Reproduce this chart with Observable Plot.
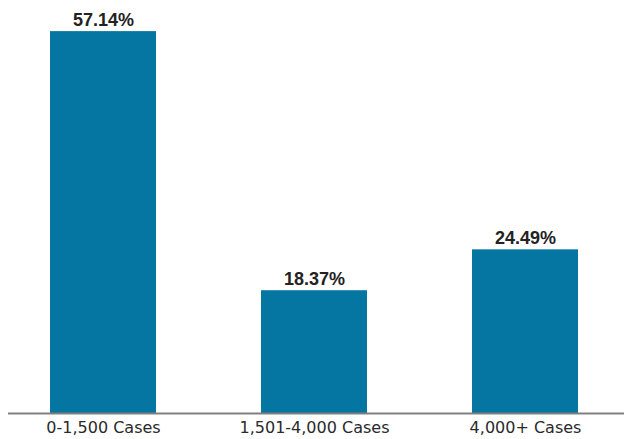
<!DOCTYPE html>
<html>
<head>
<meta charset="utf-8">
<script src="https://cdn.jsdelivr.net/npm/d3@7"></script>
<script src="https://cdn.jsdelivr.net/npm/@observablehq/plot@0.6"></script>
<style>
  html, body { margin: 0; padding: 0; background: #fff; }
  #chart svg { display: block; }
</style>
</head>
<body>
<div id="chart"></div>
<script>
const categories = ["0-1,500 Cases", "1,501-4,000 Cases", "4,000+ Cases"];
const values = [57.14, 18.37, 24.49];
const valueLabels = ["57.14%", "18.37%", "24.49%"];

const data = categories.map((c, i) => ({category: c, value: values[i], label: valueLabels[i]}));

const chart = Plot.plot({
  width: 624,
  height: 439,
  marginTop: 12,
  marginBottom: 26,
  marginLeft: 8,
  marginRight: 0,
  style: {background: "#fff"},
  x: {domain: categories, range: [8, 620], paddingInner: 0.5, paddingOuter: 0.2, label: null},
  y: {domain: [0, 60], axis: null},
  marks: [
    Plot.barY(data, {x: "category", y: "value", fill: "#0575a1"}),
    Plot.ruleY([0], {stroke: "#808080", strokeWidth: 2}),
    Plot.text(data, {
      x: "category", y: "value", text: "label",
      lineAnchor: "bottom", dy: -6,
      fontFamily: "Liberation Sans", fontWeight: "bold", fontSize: 18, fill: "#222"
    }),
    Plot.axisX({
      tickSize: 0, tickPadding: 8, label: null,
      fontFamily: "DejaVu Sans", fontSize: 16, fill: "#2a2a2a"
    })
  ]
});
chart.querySelectorAll("g[aria-label='x-axis tick label'] text, g[aria-label='x-axis tick label']").forEach(el => {
  el.setAttribute("font-size", "16");
  el.setAttribute("font-family", "DejaVu Sans");
});
document.getElementById("chart").appendChild(chart);
</script>
</body>
</html>
